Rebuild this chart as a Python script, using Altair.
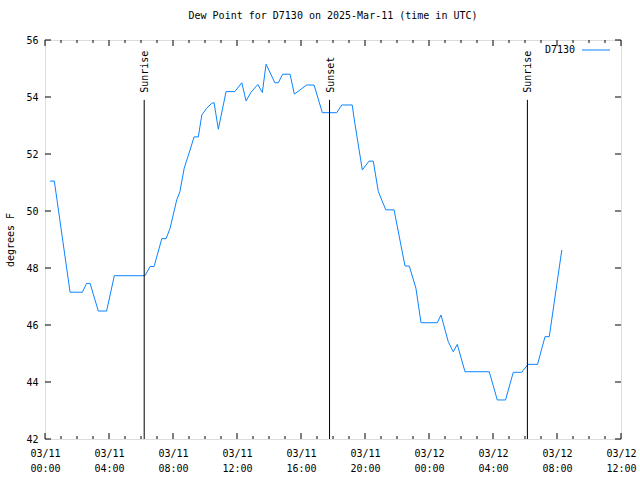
import altair as alt
import pandas as pd

# ---- data ----
times = [
    "2025-03-11T00:19:00Z", "2025-03-11T00:35:00Z", "2025-03-11T01:34:00Z", "2025-03-11T02:20:00Z",
    "2025-03-11T02:36:00Z", "2025-03-11T02:49:00Z", "2025-03-11T03:20:00Z", "2025-03-11T03:51:00Z",
    "2025-03-11T04:20:00Z", "2025-03-11T06:15:00Z", "2025-03-11T06:34:00Z", "2025-03-11T06:49:00Z",
    "2025-03-11T07:18:00Z", "2025-03-11T07:34:00Z", "2025-03-11T07:49:00Z", "2025-03-11T08:14:00Z",
    "2025-03-11T08:26:00Z", "2025-03-11T08:42:00Z", "2025-03-11T09:04:00Z", "2025-03-11T09:19:00Z",
    "2025-03-11T09:35:00Z", "2025-03-11T09:48:00Z", "2025-03-11T10:06:00Z", "2025-03-11T10:25:00Z",
    "2025-03-11T10:34:00Z", "2025-03-11T10:50:00Z", "2025-03-11T11:19:00Z", "2025-03-11T11:52:00Z",
    "2025-03-11T12:18:00Z", "2025-03-11T12:34:00Z", "2025-03-11T12:52:00Z", "2025-03-11T13:18:00Z",
    "2025-03-11T13:35:00Z", "2025-03-11T13:49:00Z", "2025-03-11T14:22:00Z", "2025-03-11T14:35:00Z",
    "2025-03-11T14:51:00Z", "2025-03-11T15:19:00Z", "2025-03-11T15:35:00Z", "2025-03-11T16:21:00Z",
    "2025-03-11T16:49:00Z", "2025-03-11T17:20:00Z", "2025-03-11T18:14:00Z", "2025-03-11T18:33:00Z",
    "2025-03-11T19:12:00Z", "2025-03-11T19:22:00Z", "2025-03-11T19:50:00Z", "2025-03-11T20:15:00Z",
    "2025-03-11T20:31:00Z", "2025-03-11T20:50:00Z", "2025-03-11T21:18:00Z", "2025-03-11T21:49:00Z",
    "2025-03-11T22:30:00Z", "2025-03-11T22:46:00Z", "2025-03-11T23:11:00Z", "2025-03-11T23:30:00Z",
    "2025-03-12T00:31:00Z", "2025-03-12T00:45:00Z", "2025-03-12T01:12:00Z", "2025-03-12T01:31:00Z",
    "2025-03-12T01:46:00Z", "2025-03-12T02:15:00Z", "2025-03-12T03:46:00Z", "2025-03-12T04:16:00Z",
    "2025-03-12T04:47:00Z", "2025-03-12T05:16:00Z", "2025-03-12T05:47:00Z", "2025-03-12T06:12:00Z",
    "2025-03-12T06:47:00Z", "2025-03-12T07:15:00Z", "2025-03-12T07:31:00Z", "2025-03-12T08:18:00Z",
]
dewpoint = [
    51.05, 51.05, 47.15, 47.15, 47.46, 47.46, 46.49, 46.49,
    47.73, 47.73, 48.05, 48.05, 49.03, 49.03, 49.39, 50.39,
    50.68, 51.50, 52.14, 52.60, 52.60, 53.37, 53.60, 53.78,
    53.80, 52.87, 54.19, 54.19, 54.50, 53.86, 54.16, 54.44,
    54.16, 55.15, 54.50, 54.50, 54.80, 54.80, 54.10, 54.42,
    54.42, 53.45, 53.45, 53.72, 53.72, 53.07, 51.44, 51.75,
    51.75, 50.68, 50.04, 50.04, 48.07, 48.07, 47.29, 46.08,
    46.08, 46.35, 45.42, 45.06, 45.32, 44.36, 44.36, 43.37,
    43.37, 44.34, 44.34, 44.62, 44.62, 45.59, 45.59, 48.63,
]
sun_times = ["2025-03-11T06:12:00Z", "2025-03-11T17:47:00Z", "2025-03-12T06:09:00Z"]
sun_labels = ["Sunrise", "Sunset", "Sunrise"]
sun_top = 53.9

x_domain = ["2025-03-11T00:00:00Z", "2025-03-12T12:00:00Z"]
y_domain = [42, 56]
x_major = ["2025-03-11T00:00:00Z", "2025-03-11T04:00:00Z", "2025-03-11T08:00:00Z",
           "2025-03-11T12:00:00Z", "2025-03-11T16:00:00Z", "2025-03-11T20:00:00Z",
           "2025-03-12T00:00:00Z", "2025-03-12T04:00:00Z", "2025-03-12T08:00:00Z",
           "2025-03-12T12:00:00Z"]
x_minor = [f"2025-03-{11 + h // 24:02d}T{h % 24:02d}:00:00Z" for h in range(37) if h % 4 != 0]
y_major = [42, 44, 46, 48, 50, 52, 54, 56]

series_name = "D7130"
title_text = "Dew Point for D7130 on 2025-Mar-11 (time in UTC)"

FONT = "DejaVu Sans Mono"
FS = 10
LINE_COLOR = "#0a84ff"
W, H = 576, 399

df = pd.DataFrame({"time": times, "dew": dewpoint})
sun_df = pd.DataFrame({"time": sun_times, "label": sun_labels})
xmaj_df = pd.DataFrame({"time": x_major})
xmin_df = pd.DataFrame({"time": x_minor})
ymaj_df = pd.DataFrame({"v": y_major})

xs = alt.Scale(type="utc", domain=x_domain, nice=False)
ys = alt.Scale(domain=y_domain, nice=False, zero=False)

x_axis = alt.Axis(
    values=x_major, ticks=False, domain=False, grid=False, title=None,
    labelExpr="[utcFormat(datum.value, '%m/%d'), utcFormat(datum.value, '%H:%M')]",
    labelFont=FONT, labelFontSize=FS, labelColor="black", labelAngle=0,
    labelFlush=False, labelOverlap=False, labelPadding=9, labelLineHeight=15,
    labelBaseline="top",
)
y_axis = alt.Axis(
    values=y_major, ticks=False, domain=False, grid=False, title="degrees F",
    labelFont=FONT, labelFontSize=FS, labelColor="black", labelPadding=7,
    titleFont=FONT, titleFontSize=FS, titleFontWeight="normal", titleColor="black",
    titlePadding=10,
)

line = alt.Chart(df).mark_line(color=LINE_COLOR, strokeWidth=1, clip=True).encode(
    x=alt.X("time:T", scale=xs, axis=x_axis),
    y=alt.Y("dew:Q", scale=ys, axis=y_axis),
)

sun_rules = alt.Chart(sun_df).mark_rule(color="black", strokeWidth=1).encode(
    x=alt.X("time:T", scale=xs),
    y=alt.datum(42),
    y2=alt.datum(sun_top),
)
sun_text = alt.Chart(sun_df).mark_text(
    font=FONT, fontSize=FS, color="black", angle=270, align="left",
    baseline="middle", dx=7, dy=1,
).encode(
    x=alt.X("time:T", scale=xs),
    y=alt.datum(sun_top),
    text="label:N",
)

def rule_layer(data, **enc):
    return alt.Chart(data).mark_rule(color="black", strokeWidth=1).encode(**enc)

xt = alt.X("time:T", scale=xs)
ticks = [
    rule_layer(xmaj_df, x=xt, y=alt.value(H), y2=alt.value(H - 6)),
    rule_layer(xmaj_df, x=xt, y=alt.value(0), y2=alt.value(6)),
    rule_layer(xmin_df, x=xt, y=alt.value(H), y2=alt.value(H - 3)),
    rule_layer(xmin_df, x=xt, y=alt.value(0), y2=alt.value(3)),
    rule_layer(ymaj_df, y=alt.Y("v:Q", scale=ys), x=alt.value(0), x2=alt.value(6)),
    rule_layer(ymaj_df, y=alt.Y("v:Q", scale=ys), x=alt.value(W), x2=alt.value(W - 6)),
]

legend_df = pd.DataFrame({"name": [series_name]})
legend_text = alt.Chart(legend_df).mark_text(
    font=FONT, fontSize=FS, color="black", align="right", baseline="middle"
).encode(x=alt.value(530), y=alt.value(10), text="name:N")
legend_line = alt.Chart(legend_df).mark_rule(color=LINE_COLOR, strokeWidth=1).encode(
    x=alt.value(537), x2=alt.value(565), y=alt.value(10)
)

chart = alt.layer(
    line, sun_rules, sun_text, *ticks, legend_text, legend_line
).properties(
    width=W, height=H,
    title=alt.TitleParams(title_text, font=FONT, fontSize=FS, fontWeight="normal",
                          color="black", anchor="middle", offset=14),
    autosize=alt.AutoSizeParams(type="none"),
    padding={"left": 45, "top": 40, "right": 19, "bottom": 41},
).configure_view(
    stroke="black", strokeWidth=1
).configure(background="white")

chart.save("out.html", embed_options={"renderer": "svg", "actions": False})
